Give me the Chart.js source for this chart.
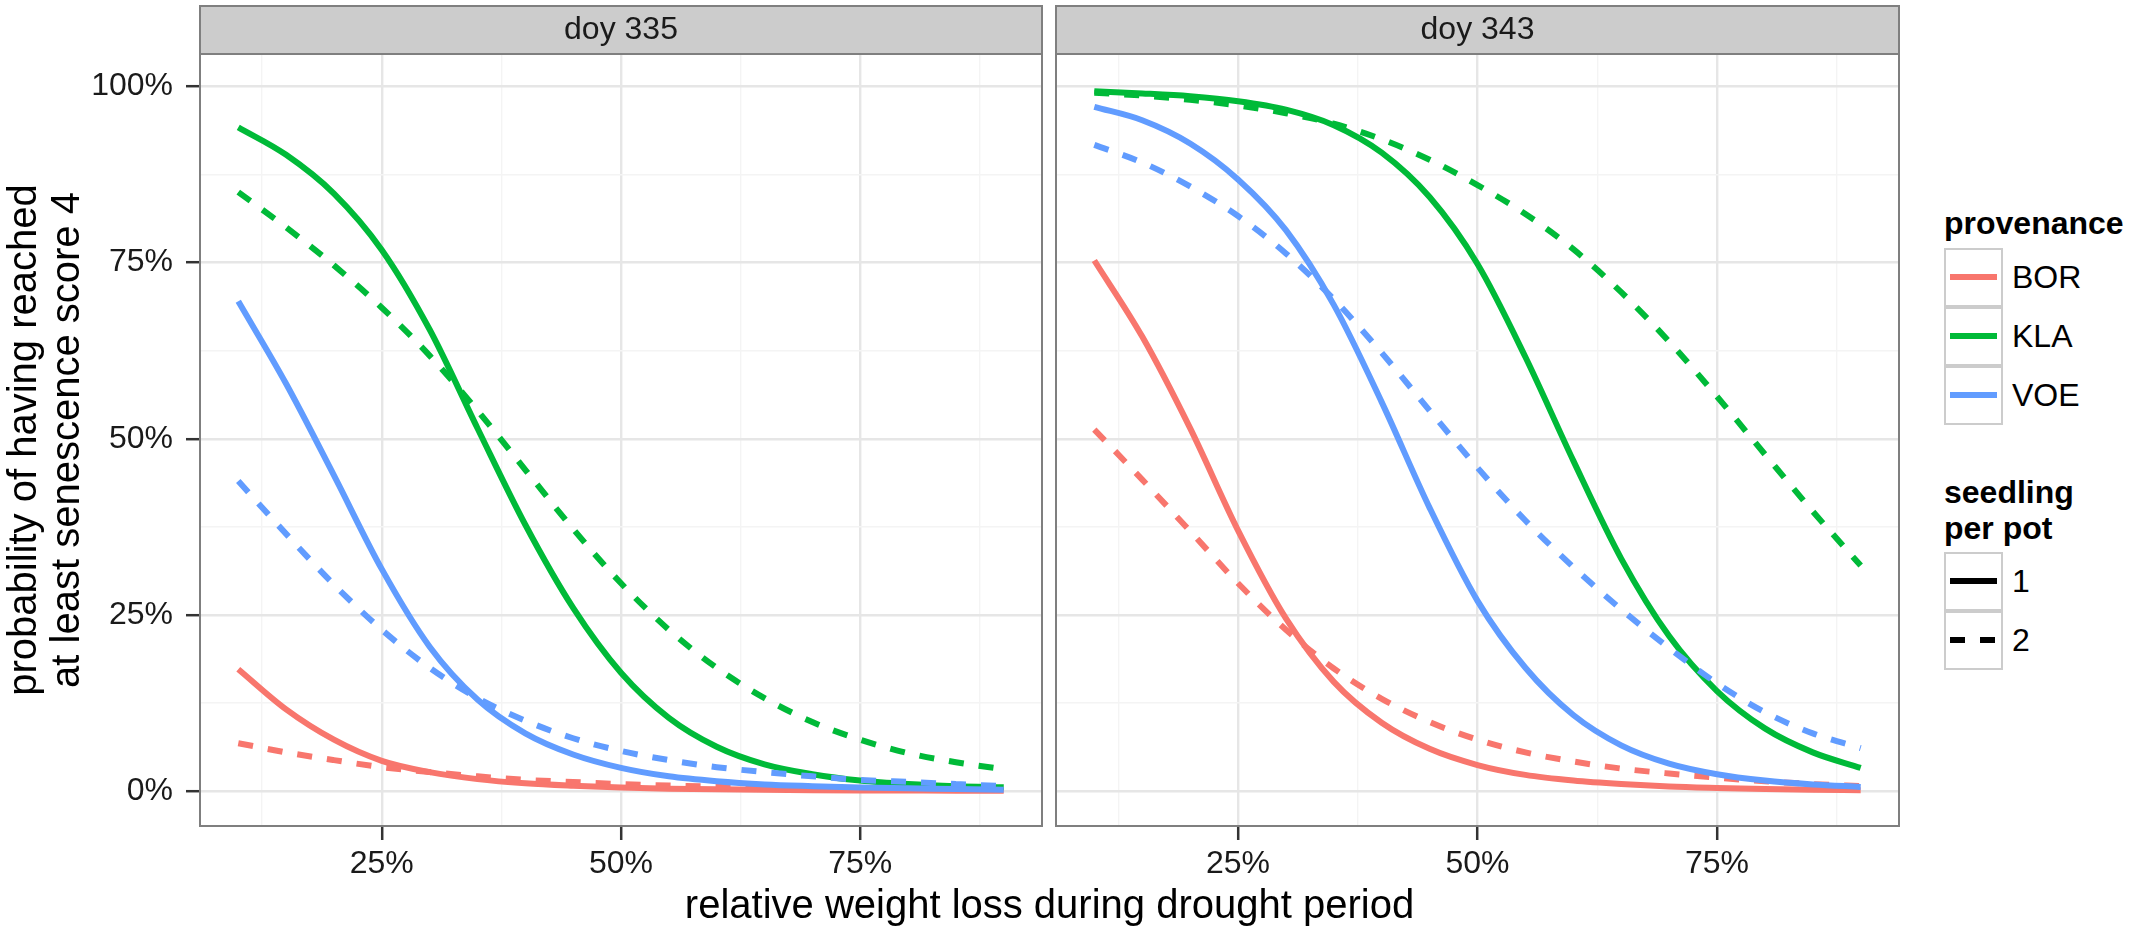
<!DOCTYPE html>
<html>
<head>
<meta charset="utf-8">
<script src="https://cdn.jsdelivr.net/npm/chart.js@4.4.1/dist/chart.umd.min.js"></script>
<style>
html,body{margin:0;padding:0;background:#fff;}
body{width:2133px;height:932px;position:relative;overflow:hidden;font-family:'Liberation Sans',Arial,Helvetica,sans-serif;color:#000;}
.cv{position:absolute;top:0;}
.t{position:absolute;white-space:nowrap;}
.lt{font-weight:bold;font-size:32px;line-height:36px;left:1944px;}
.box{position:absolute;left:1944px;width:55px;height:55px;border:2px solid #CCCCCC;background:#fff;}
.key{position:absolute;left:4px;right:4px;top:24px;height:6px;}
.lab{font-size:32px;line-height:36px;left:2012px;}
</style>
</head>
<body>
<canvas id="c1" class="cv" width="1049" height="932" style="left:0;width:1049px;height:932px"></canvas>
<canvas id="c2" class="cv" width="857" height="932" style="left:1049px;width:857px;height:932px"></canvas>

<div class="t" id="xtitle" style="left:200px;width:1699px;text-align:center;top:881px;font-size:40px;line-height:46px;">relative weight loss during drought period</div>
<div id="legend"></div>

<script>
// ---------- data ----------
const panels = ['doy 335', 'doy 343'];
const xPct = [10, 15, 20, 25, 30, 35, 40, 45, 50, 55, 60, 65, 70, 75, 80, 85, 90];

// doy 335
const bor1_335 = [17.3, 11.6, 7.3, 4.3, 2.7, 1.7, 1.1, 0.75, 0.5, 0.35, 0.25, 0.18, 0.13, 0.1, 0.08, 0.06, 0.05];
const bor2_335 = [6.8, 5.5, 4.4, 3.4, 2.7, 2.1, 1.6, 1.3, 1.0, 0.8, 0.65, 0.5, 0.4, 0.32, 0.25, 0.2, 0.15];
const kla1_335 = [94.2, 90.3, 84.8, 76.8, 65.5, 51.5, 37.8, 26.0, 16.8, 10.4, 6.3, 3.8, 2.4, 1.5, 1.0, 0.7, 0.55];
const kla2_335 = [85.0, 80.0, 74.6, 68.6, 61.8, 54.0, 45.6, 37.2, 29.5, 22.9, 17.5, 13.2, 9.8, 7.3, 5.4, 4.1, 3.1];
const voe1_335 = [69.5, 57.8, 44.8, 31.5, 20.5, 13.0, 8.2, 5.2, 3.3, 2.1, 1.4, 0.95, 0.7, 0.5, 0.4, 0.3, 0.2];
const voe2_335 = [44.0, 36.5, 29.3, 22.9, 17.5, 13.2, 10.0, 7.5, 5.7, 4.4, 3.4, 2.7, 2.1, 1.6, 1.3, 1.0, 0.7];

// doy 343
const bor1_343 = [75.3, 64.5, 51.5, 37.0, 24.5, 15.5, 9.7, 6.0, 3.7, 2.3, 1.5, 1.0, 0.65, 0.45, 0.3, 0.2, 0.14];
const bor2_343 = [51.3, 44.2, 36.9, 29.5, 22.9, 17.4, 13.1, 9.8, 7.3, 5.5, 4.2, 3.2, 2.5, 1.9, 1.4, 1.0, 0.7];
const kla1_343 = [99.3, 99.0, 98.6, 97.9, 96.7, 94.5, 90.6, 84.3, 74.8, 61.6, 46.9, 33.0, 22.0, 14.2, 8.9, 5.5, 3.3];
const kla2_343 = [99.1, 98.7, 98.1, 97.3, 96.2, 94.7, 92.5, 89.6, 86.0, 81.9, 76.9, 70.8, 63.8, 56.0, 47.8, 39.7, 32.0];
const voe1_343 = [97.1, 95.2, 91.9, 86.8, 79.6, 69.0, 55.2, 40.2, 27.0, 17.5, 10.8, 6.5, 3.9, 2.4, 1.5, 0.95, 0.6];
const voe2_343 = [91.7, 89.2, 85.8, 81.6, 76.3, 69.8, 62.2, 54.0, 45.9, 38.4, 31.8, 25.8, 20.3, 15.3, 11.2, 8.2, 6.1];

// ticks
const yMajor = [0, 25, 50, 75, 100];
const yMinor = [12.5, 37.5, 62.5, 87.5];
const xMajor = [25, 50, 75];
const xMinor = [12.5, 37.5, 62.5, 87.5];

// legend
const provenance = ['BOR', 'KLA', 'VOE'];
const seedling = ['1', '2'];

// ---------- styles ----------
const colors = {BOR: '#F8766D', KLA: '#00BA38', VOE: '#619CFF'};
const FONT = "'Liberation Sans', Arial, Helvetica, sans-serif";
const GRID_MAJ = '#E6E6E6', GRID_MIN = '#F4F4F4';
const LINE_W = 6, DASH = [15, 15];

const yAll = yMajor.concat(yMinor).sort((a, b) => a - b);
const xAll = xMajor.concat(xMinor).sort((a, b) => a - b);

function ds(label, data, color, dashed) {
  return {
    label, data: xPct.map((x, i) => ({x: x, y: data[i]})),
    borderColor: color, borderWidth: LINE_W, borderDash: dashed ? DASH : [],
    borderCapStyle: 'butt', pointRadius: 0, cubicInterpolationMode: 'monotone', fill: false
  };
}

const stripPlugin = {
  id: 'stripPlugin',
  beforeDraw(chart) {
    const {ctx, chartArea: a} = chart;
    ctx.save();
    ctx.fillStyle = '#CCCCCC';
    ctx.fillRect(a.left, 6, a.right - a.left, a.top - 6);
    ctx.strokeStyle = '#7F7F7F';
    ctx.lineWidth = 2;
    ctx.strokeRect(a.left, 6, a.right - a.left, a.top - 6);
    ctx.restore();
  },
  afterDraw(chart) {
    const {ctx, chartArea: a} = chart;
    ctx.save();
    ctx.strokeStyle = '#7F7F7F';
    ctx.lineWidth = 2;
    ctx.strokeRect(a.left, a.top, a.right - a.left, a.bottom - a.top);
    ctx.restore();
  }
};

function gridOpts(major, drawTicks) {
  const isMaj = c => c.tick && major.includes(c.tick.value);
  return {
    color: c => isMaj(c) ? GRID_MAJ : GRID_MIN,
    lineWidth: c => isMaj(c) ? 2.4 : 1.4,
    drawTicks: drawTicks,
    tickLength: 14,
    tickWidth: 2.5,
    tickColor: c => isMaj(c) ? '#333333' : 'rgba(0,0,0,0)'
  };
}

function makeChart(id, stripLabel, sets, withY) {
  const xScale = {
    type: 'linear', min: 6, max: 94,
    afterBuildTicks: s => { s.ticks = xAll.map(v => ({value: v})); },
    afterFit: s => { s.height = 106; },
    border: {display: false},
    grid: gridOpts(xMajor, true),
    ticks: {autoSkip: false, maxRotation: 0, minRotation: 0, padding: 5, color: '#1A1A1A',
      font: {family: FONT, size: 32},
      callback: v => xMajor.includes(v) ? v + '%' : ''}
  };
  const yScale = {
    type: 'linear', min: -4.95, max: 104.6,
    afterBuildTicks: s => { s.ticks = yAll.map(v => ({value: v})); },
    afterFit: s => { s.width = withY ? 200 : 0; },
    border: {display: false},
    grid: gridOpts(yMajor, withY),
    ticks: {display: withY, autoSkip: false, padding: 13, color: '#1A1A1A',
      font: {family: FONT, size: 32},
      callback: v => yMajor.includes(v) ? v + '%' : ''},
    title: {display: withY, text: ['probability of having reached', 'at least senescence score 4'],
      color: '#000', font: {family: FONT, size: 40, lineHeight: 1.075}, padding: {top: 3, bottom: 0}}
  };
  return new Chart(document.getElementById(id), {
    type: 'line',
    data: {datasets: sets},
    plugins: [stripPlugin],
    options: {
      responsive: false, animation: false, events: [],
      layout: {padding: withY ? {top: 0, left: 0, right: 7, bottom: 0} : {top: 0, left: 7, right: 7, bottom: 0}},
      plugins: {
        legend: {display: false}, tooltip: {enabled: false},
        title: {display: true, text: stripLabel, fullSize: false, align: 'center', color: '#1A1A1A',
          font: {family: FONT, size: 32, weight: 'normal', lineHeight: 1.5}, padding: {top: 6, bottom: 0}}
      },
      scales: {x: xScale, y: yScale}
    }
  });
}

// draw order: first dataset is drawn on top
makeChart('c1', panels[0], [
  ds('VOE 2', voe2_335, colors.VOE, true),
  ds('VOE 1', voe1_335, colors.VOE, false),
  ds('KLA 2', kla2_335, colors.KLA, true),
  ds('KLA 1', kla1_335, colors.KLA, false),
  ds('BOR 2', bor2_335, colors.BOR, true),
  ds('BOR 1', bor1_335, colors.BOR, false)
], true);

makeChart('c2', panels[1], [
  ds('VOE 2', voe2_343, colors.VOE, true),
  ds('VOE 1', voe1_343, colors.VOE, false),
  ds('KLA 2', kla2_343, colors.KLA, true),
  ds('KLA 1', kla1_343, colors.KLA, false),
  ds('BOR 2', bor2_343, colors.BOR, true),
  ds('BOR 1', bor1_343, colors.BOR, false)
], false);

// ---------- legend (HTML) ----------
(function () {
  const L = document.getElementById('legend');
  let html = '';
  html += '<div class="t lt" style="top:205px">provenance</div>';
  provenance.forEach((p, i) => {
    const top = 248 + i * 59;
    html += '<div class="box" style="top:' + top + 'px"><div class="key" style="background:' + colors[p] + '"></div></div>';
    html += '<div class="t lab" style="top:' + (top + 11) + 'px">' + p + '</div>';
  });
  html += '<div class="t lt" style="top:474px">seedling<br>per pot</div>';
  seedling.forEach((s, i) => {
    const top = 552 + i * 59;
    const bg = i === 0 ? '#000' : 'repeating-linear-gradient(to right,#000 0 15px,transparent 15px 30px)';
    html += '<div class="box" style="top:' + top + 'px"><div class="key" style="background:' + bg + '"></div></div>';
    html += '<div class="t lab" style="top:' + (top + 11) + 'px">' + s + '</div>';
  });
  L.innerHTML = html;
})();
</script>
</body>
</html>
